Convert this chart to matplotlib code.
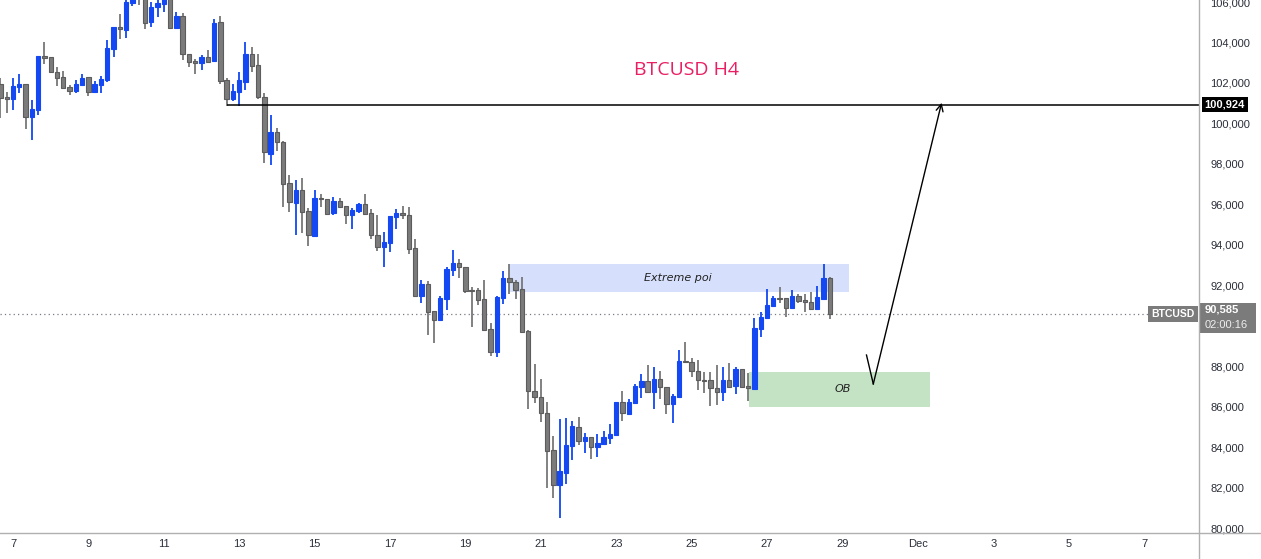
import pandas as pd
import matplotlib
matplotlib.use("Agg")
import matplotlib.pyplot as plt
import matplotlib.dates as mdates
from matplotlib.patches import Rectangle
from matplotlib.lines import Line2D
from matplotlib.transforms import blended_transform_factory

# BTCUSD 4h candles, first bar 2025-11-06 16:00
first_bar = "2025-11-06 16:00"
opens = [101950, 101300, 101220, 101810, 101930, 100300, 100680, 103330, 103270, 102530,
         102280, 101790, 101600, 101910, 102280, 101570, 101910, 102150, 103690, 104750,
         104630, 105970, 106400, 106250, 105030, 105750, 105900, 106300, 104730, 105310,
         103430, 103090, 102970, 103280, 103090, 105010, 102150, 101220, 101570, 102060,
         103430, 102890, 101310, 98500, 99560, 99070, 97040, 96080, 96710, 95660,
         94450, 96310, 96260, 95590, 96150, 95900, 95490, 95690, 96020, 95560,
         94470, 93910, 94100, 95390, 95560, 95470, 93830, 91480, 92060, 90730,
         90300, 91340, 92770, 93100, 92900, 91770, 91770, 91320, 89840, 88720,
         91380, 92340, 92160, 91800, 89720, 86760, 86460, 85670, 83840, 82140,
         82730, 84070, 84980, 84320, 84480, 83990, 84170, 84460, 84610, 86230,
         85650, 86190, 86990, 87250, 86740, 87350, 86960, 86150, 86490, 88260,
         88220, 87750, 87320, 87320, 86940, 86740, 87320, 87020, 87860, 87020,
         86890, 89850, 90400, 90990, 91360, 91360, 90890, 91470, 91270, 91160,
         90840, 91340, 92360]
highs = [102240, 101550, 102240, 102440, 101950, 101160, 103330, 104020, 103270, 102800,
         102590, 101900, 102150, 102440, 102290, 102100, 102340, 104120, 104770, 105410,
         106150, 106500, 106600, 106400, 106000, 106200, 106500, 106350, 105490, 105440,
         103430, 103170, 103370, 103630, 105160, 105310, 102230, 101950, 102540, 104020,
         103780, 103430, 101490, 100420, 99760, 99130, 97440, 97200, 97290, 95800,
         96710, 96510, 96260, 96360, 96310, 95900, 95830, 96080, 96510, 95750,
         95470, 94630, 95420, 95770, 95920, 95870, 94290, 92260, 92210, 90730,
         91480, 92900, 93740, 93300, 92900, 91910, 91860, 92260, 90130, 91470,
         92700, 93050, 92260, 92410, 89790, 88110, 87370, 86230, 84550, 85390,
         85440, 85290, 85490, 84700, 84500, 84650, 84800, 85140, 86230, 86770,
         86380, 87130, 87610, 88060, 87960, 87760, 86960, 86620, 88800, 89200,
         88400, 88310, 87730, 87730, 88060, 87940, 88140, 87940, 87860, 87650,
         90400, 90690, 91820, 91470, 91900, 91360, 91770, 91570, 91570, 91650,
         91960, 93050, 92400]
lows = [100270, 100510, 100660, 101520, 99720, 99180, 100420, 102940, 102530, 101850,
        101700, 101400, 101520, 101910, 101360, 101570, 101520, 102060, 103300, 104160,
        104240, 105820, 105870, 104650, 104770, 105260, 105510, 104700, 104730, 103130,
        102800, 102440, 102640, 103000, 103090, 101950, 100860, 101120, 100860, 101650,
        102560, 101190, 98060, 97960, 98650, 95880, 95640, 94500, 94580, 93960,
        94450, 95880, 95540, 95490, 95880, 95040, 94800, 95590, 95490, 94300,
        93710, 92920, 93660, 94800, 95260, 93530, 91430, 91140, 89560, 89160,
        90300, 90790, 92470, 92370, 91630, 89950, 91040, 89800, 88520, 88470,
        91090, 91580, 91340, 89700, 85880, 86190, 85260, 81990, 81500, 80510,
        82190, 83380, 84120, 83720, 83430, 83530, 84120, 84170, 84610, 85310,
        85650, 86190, 86440, 86690, 85900, 86390, 85650, 85210, 86490, 88220,
        87470, 86820, 86660, 86050, 86080, 86290, 86990, 86620, 86990, 86290,
        86890, 89460, 90400, 90910, 91110, 90450, 90890, 91110, 90660, 90840,
        90840, 91340, 90320]
closes = [101270, 101210, 101850, 101930, 100300, 100710, 103330, 103250, 102530, 102260,
          101770, 101620, 101950, 102230, 101570, 101950, 102200, 103730, 104770, 104650,
          106000, 106300, 106200, 104980, 105750, 105970, 106300, 104700, 105310, 103420,
          103050, 102970, 103280, 103050, 104960, 102110, 101220, 101620, 102150, 103430,
          102850, 101320, 98600, 99560, 99070, 97020, 96100, 96710, 95640, 94470,
          96310, 96250, 95540, 96160, 95880, 95490, 95720, 96020, 95520, 94470,
          93910, 94120, 95420, 95570, 95460, 93810, 91480, 92060, 90690, 90300,
          91370, 92800, 93100, 92890, 91730, 91730, 91290, 89800, 88720, 91420,
          92360, 92180, 91780, 89700, 86760, 86460, 85670, 83820, 82140, 82800,
          84090, 85030, 84320, 84480, 83990, 84190, 84480, 84630, 86230, 85670,
          86230, 87020, 87270, 86740, 87350, 86960, 86150, 86510, 88240, 88220,
          87750, 87300, 87280, 86910, 86740, 87320, 86990, 87860, 86990, 86910,
          89870, 90450, 91020, 91370, 91310, 90890, 91470, 91240, 91160, 90840,
          91400, 92360, 90585]

last_price = 90585
target_level = 100924
target_from = "2025-11-12 16:00"
poi_zone = ("2025-11-20 04:00", "2025-11-29 04:00", 91680, 93050)
ob_zone = ("2025-11-26 12:30", "2025-12-01 07:30", 86000, 87710)
path_times = ["2025-11-29 15:20", "2025-11-29 19:40", "2025-12-01 15:10"]
path_prices = [88550, 87120, 101020]
tick_days = pd.date_range("2025-11-07", "2025-12-07", freq="2D")
# 90,000 sits under the live price tag, so the scale skips it
price_ticks = [v for v in range(80000, 106001, 2000) if v != 90000]

BLUE = "#1348f2"
GREY = "#7b7b7b"

times = pd.date_range(first_bar, periods=len(opens), freq="4h")
x = mdates.date2num(times)
up = [c >= o for o, c in zip(opens, closes)]
body_lo = [min(o, c) for o, c in zip(opens, closes)]
body_h = [max(abs(c - o), 45) for o, c in zip(opens, closes)]
fill = [BLUE if u else GREY for u in up]
edge = [BLUE if u else "#5c5c5c" for u in up]
wick = [BLUE if u else "#777777" for u in up]

fig = plt.figure(figsize=(12.61, 5.59), dpi=100)
ax = fig.add_axes([0, 26 / 559, 1199 / 1261, 533 / 559])

ax.vlines(x, lows, highs, colors=wick, linewidth=1.3, zorder=2)
ax.bar(x, body_h, bottom=body_lo, width=0.7 / 6, color=fill, edgecolor=edge,
       linewidth=0.8, zorder=3)

t0 = mdates.date2num(pd.Timestamp("2025-11-07"))
ax.set_xlim(t0 - 13 / 37.7, t0 + 1186 / 37.7)
ax.set_ylim(79753, 106100)

# zones
for (a, b, lo, hi), col in [(poi_zone, "#d6e0fc"), (ob_zone, "#c4e3c4")]:
    xa, xb = mdates.date2num(pd.Timestamp(a)), mdates.date2num(pd.Timestamp(b))
    ax.add_patch(Rectangle((xa, lo), xb - xa, hi - lo, facecolor=col,
                           edgecolor="none", zorder=1))
ax.text(mdates.date2num(pd.Timestamp("2025-11-24 15:00")), (poi_zone[2] + poi_zone[3]) / 2,
        "Extreme poi", style="italic", fontsize=8, color="#222222",
        ha="center", va="center", zorder=4)
ax.text(mdates.date2num(pd.Timestamp("2025-11-29 00:00")), (ob_zone[2] + ob_zone[3]) / 2,
        "OB", style="italic", fontsize=8, color="#222222",
        ha="center", va="center", zorder=4)

# target line and current price line
ax.hlines(target_level, mdates.date2num(pd.Timestamp(target_from)), ax.get_xlim()[1],
          color="black", linewidth=1.1, zorder=4)
ax.axhline(last_price, color="#787b86", linewidth=0.9, linestyle=(0, (1, 2.5)), zorder=1)

# projected path
px = mdates.date2num(pd.to_datetime(path_times))
ax.plot(px[:2], path_prices[:2], color="black", linewidth=1, zorder=5)
ax.annotate("", xy=(px[2], path_prices[2]), xytext=(px[1], path_prices[1]),
            arrowprops=dict(arrowstyle="->,head_length=0.5,head_width=0.25",
                            color="black", linewidth=1, shrinkA=0, shrinkB=0),
            zorder=5)

ax.text(0.5726, 0.869, "BTCUSD H4", transform=ax.transAxes, fontsize=14,
        color="#e91e63", ha="center", va="center", family="Open Sans")

# axes styling
ax.yaxis.tick_right()
ax.set_yticks(price_ticks)
ax.set_yticklabels([f"{v:,}" for v in price_ticks])
ax.set_xticks(mdates.date2num(tick_days))
ax.set_xticklabels(["Dec" if d.day == 1 else str(d.day) for d in tick_days])
ax.tick_params(axis="y", length=0, pad=8, labelsize=8, labelcolor="#2a2e39")
ax.tick_params(axis="x", length=0, pad=4, labelsize=8, labelcolor="#2a2e39")
for lab in ax.get_xticklabels() + ax.get_yticklabels():
    lab.set_family("Liberation Sans")
for side in ["top", "left", "right", "bottom"]:
    ax.spines[side].set_visible(False)
fig.add_artist(Line2D([0, 1], [26 / 559, 26 / 559], color="#b0b0b0", linewidth=1))
fig.add_artist(Line2D([1199 / 1261, 1199 / 1261], [0, 1], color="#b0b0b0", linewidth=1))

# price scale tags
tr = blended_transform_factory(ax.transAxes, ax.transData)
ax.text(1.0045, target_level, "100,924", transform=tr, ha="left", va="center",
        fontsize=8, fontweight="bold", color="white", family="Liberation Sans",
        bbox=dict(boxstyle="square,pad=0.25", fc="black", ec="none"), zorder=10,
        clip_on=False)
ax.add_patch(Rectangle((1.0008, 89640), 0.047, 1480, transform=tr, fc="#7b7b7b",
                       ec="none", zorder=10, clip_on=False))
ax.text(1.0045, 90800, "90,585", transform=tr, ha="left", va="center", fontsize=8,
        fontweight="bold", color="white", family="Liberation Sans", zorder=11,
        clip_on=False)
ax.text(1.0045, 90030, "02:00:16", transform=tr, ha="left", va="center", fontsize=8,
        color="#eeeeee", family="Liberation Sans", zorder=11, clip_on=False)
ax.text(0.9965, last_price, "BTCUSD", transform=tr, ha="right", va="center",
        fontsize=7.5, fontweight="bold", color="white", family="Liberation Sans",
        bbox=dict(boxstyle="square,pad=0.3", fc="#7b7b7b", ec="none"), zorder=10,
        clip_on=False)

fig.savefig("out.png", dpi=100, facecolor="white")
